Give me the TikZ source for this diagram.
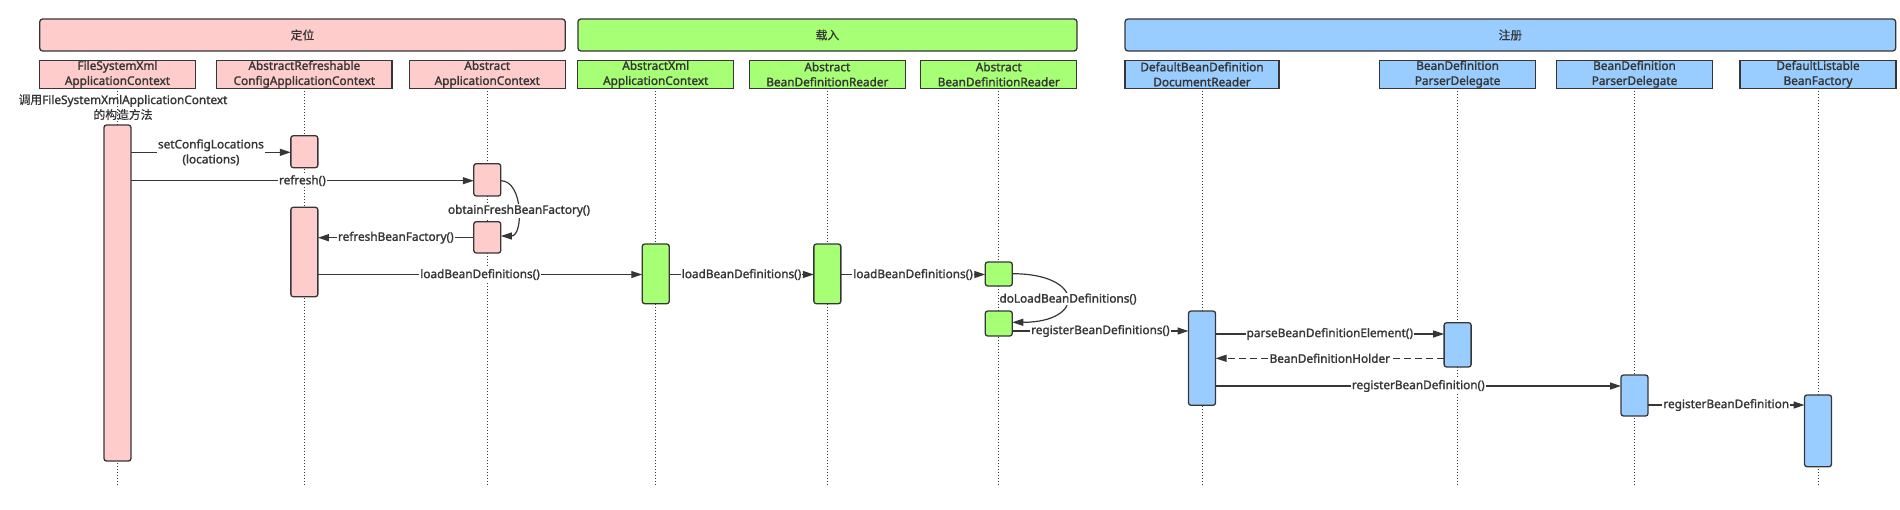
\documentclass[tikz,border=0pt]{standalone}
\usepackage{fontspec}
\setmainfont{Noto Sans}[AutoFakeBold=1.6]
\newfontfamily\cjk{Noto Sans CJK SC}[AutoFakeBold=0.6]
\newcommand{\zh}[1]{{\cjk #1}}
\usetikzlibrary{arrows.meta}
\definecolor{pinkf}{HTML}{FFCCCC}
\definecolor{greenf}{HTML}{A6FF75}
\definecolor{bluef}{HTML}{99CCFF}
\definecolor{ink}{HTML}{363636}
\begin{document}
\begin{tikzpicture}[x=1pt,y=-1pt,
  every node/.style={font=\fontsize{11.8}{15}\selectfont\bfseries, text=ink},
  bar/.style={draw=ink, line width=1.3pt, rounded corners=3pt, minimum height=32pt, inner sep=0pt, outer sep=0pt},
  hdr/.style={draw=ink, line width=1.3pt, minimum width=156pt, minimum height=28pt, align=center, inner sep=0pt, outer sep=0pt},
  act/.style={draw=ink, line width=1.3pt, rounded corners=2.5pt, minimum width=27pt, inner sep=0pt, outer sep=0pt},
  life/.style={draw=ink, line width=1pt, dash pattern=on 1pt off 2pt},
  msg/.style={draw=ink, line width=1.2pt, -{Triangle[length=11pt,width=7pt]}},
  lbl/.style={fill=white, inner sep=1pt, align=center}]
\useasboundingbox (0,0) rectangle (1900,509);
% phase bars
\node[bar, fill=pinkf, minimum width=525.6pt] (B1) at (302.5,35) {\zh{定位}};
\node[bar, fill=greenf, minimum width=499.1pt] (B2) at (827.45,35) {\zh{载入}};
\node[bar, fill=bluef, minimum width=770.7pt] (B3) at (1510.35,35) {\zh{注册}};
% headers
\node[hdr, fill=pinkf] (H1) at (117.5,74.3) {FileSystemXml\\ApplicationContext};
\node[hdr, fill=pinkf, minimum width=175.3pt] (H2) at (304.35,74.3) {AbstractRefreshable\\ConfigApplicationContext};
\node[hdr, fill=pinkf] (H3) at (487.3,74.3) {Abstract\\ApplicationContext};
\node[hdr, fill=greenf] (H4) at (655.75,74.3) {AbstractXml\\ApplicationContext};
\node[hdr, fill=greenf] (H5) at (827.35,74.3) {Abstract\\BeanDefinitionReader};
\node[hdr, fill=greenf] (H6) at (998.75,74.3) {Abstract\\BeanDefinitionReader};
\node[hdr, fill=bluef, minimum width=154pt] (H7) at (1202,74.3) {DefaultBeanDefinition\\DocumentReader};
\node[hdr, fill=bluef] (H8) at (1457.6,74.3) {BeanDefinition\\ParserDelegate};
\node[hdr, fill=bluef] (H9) at (1634.5,74.3) {BeanDefinition\\ParserDelegate};
\node[hdr, fill=bluef] (H10) at (1818,74.3) {DefaultListable\\BeanFactory};
% lifelines
\coordinate (bot) at (0,485);
\foreach \h in {H1,H2,H3,H4,H5,H6,H7,H8,H9,H10}
  \draw[life] (\h.south) -- (\h.south |- bot);
% found message text
\node[align=center] (F) at (123,107.2) {\zh{调用}FileSystemXmlApplicationContext\\\zh{的构造方法}};
% activations
\node[act, fill=pinkf, minimum height=336pt] (A1) at (H1.south |- 0,293) {};
\node[act, fill=pinkf, minimum height=32pt] (A2) at (H2.south |- 0,151.7) {};
\node[act, fill=pinkf, minimum height=32.3pt] (A3) at (H3.south |- 0,179.85) {};
\node[act, fill=pinkf, minimum height=31.3pt] (A4) at (H3.south |- 0,237.35) {};
\node[act, fill=pinkf, minimum height=89.4pt] (A5) at (H2.south |- 0,252) {};
\node[act, fill=greenf, minimum height=59.7pt] (A6) at (H4.south |- 0,273.85) {};
\node[act, fill=greenf, minimum height=59.7pt] (A7) at (H5.south |- 0,273.85) {};
\node[act, fill=greenf, minimum height=24pt] (A8) at (H6.south |- 0,274) {};
\node[act, fill=greenf, minimum height=25pt] (A9) at (H6.south |- 0,323.5) {};
\node[act, fill=bluef, minimum height=94.3pt] (A10) at (H7.south |- 0,358.15) {};
\node[act, fill=bluef, minimum height=44.3pt] (A11) at (H8.south |- 0,344.85) {};
\node[act, fill=bluef, minimum height=41pt] (A12) at (H9.south |- 0,395.5) {};
\node[act, fill=bluef, minimum height=71.7pt] (A13) at (H10.south |- 0,430.85) {};
% message levels
\coordinate (m1) at (0,152.3);
\coordinate (m2) at (0,180.7);
\coordinate (m3) at (0,236);
\coordinate (m4) at (0,237.7);
\coordinate (m5) at (0,274.5);
\coordinate (m8a) at (0,273.7);
\coordinate (m8b) at (0,322.3);
\coordinate (m9) at (0,331);
\coordinate (m10) at (0,334);
\coordinate (m11) at (0,358.3);
\coordinate (m12) at (0,386);
\coordinate (m13) at (0,405);
% messages
\draw[msg] (A1.east |- m1) -- node[lbl] (L1) {setConfigLocations\\(locations)} (A2.west |- m1);
\draw[msg] (A1.east |- m2) -- node[lbl] (L2) {refresh()} (A3.west |- m2);
\draw[msg] (A3.east |- m2) .. controls +(22.7,0) and +(22.7,0) .. (A4.east |- m3);
\node[lbl] (L3) at (519,210.7) {obtainFreshBeanFactory()};
\draw[msg] (A4.west |- m4) -- node[lbl] (L4) {refreshBeanFactory()} (A5.east |- m4);
\draw[msg] (A5.east |- m5) -- node[lbl] (L5) {loadBeanDefinitions()} (A6.west |- m5);
\draw[msg] (A6.east |- m5) -- node[lbl] (L6) {loadBeanDefinitions()} (A7.west |- m5);
\draw[msg] (A7.east |- m5) -- node[lbl] (L7) {loadBeanDefinitions()} (A8.west |- m5);
\draw[msg] (A8.east |- m8a) .. controls +(73,0) and +(73,0) .. (A9.east |- m8b);
\node[lbl] (L8) at (1068,299) {doLoadBeanDefinitions()};
\draw[msg] (A9.east |- m9) -- node[lbl] (L9) {registerBeanDefinitions()} (A10.west |- m9);
\draw[msg] (A10.east |- m10) -- node[lbl] (L10) {parseBeanDefinitionElement()} (A11.west |- m10);
\draw[msg, dash pattern=on 7pt off 4pt] (A11.west |- m11) -- node[lbl] (L11) {BeanDefinitionHolder} (A10.east |- m11);
\draw[msg] (A10.east |- m12) -- node[lbl] (L12) {registerBeanDefinition()} (A12.west |- m12);
\draw[msg] (A12.east |- m13) -- node[lbl] (L13) {registerBeanDefinition} (A13.west |- m13);
\end{tikzpicture}
\end{document}
